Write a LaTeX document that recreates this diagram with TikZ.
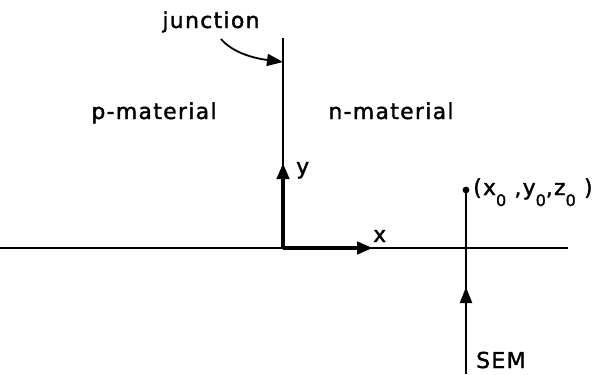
\documentclass[tikz,border=0pt]{standalone}
\usepackage{fontspec}
\setmainfont{DejaVu Sans}[LetterSpace=6,FakeBold=1.6]
\usetikzlibrary{arrows.meta}
\newcommand\lowsub[1]{\raisebox{-11bp}{\fontsize{16}{16}\selectfont #1}}
\begin{document}
\begin{tikzpicture}[x=1bp,y=1bp,
  thinline/.style={line width=2.2bp},
  thickline/.style={line width=4bp},
  tip/.style={-{Triangle[length=16bp,width=12bp]}},
  lbl/.style={inner sep=0pt,font=\fontsize{22}{22}\selectfont}]
\useasboundingbox (0,0) rectangle (592,374);
% coordinates
\coordinate (L) at (0,126);
\coordinate (R) at (568,126);
\coordinate (O) at (283,126);
\coordinate (J) at (283,336);
\coordinate (Ytip) at (283,211);
\coordinate (Xtip) at (373,126);
\coordinate (P) at (466,184);
\coordinate (S) at (466,0);
\coordinate (Stip) at (466,87);
\coordinate (Jstart) at (221,335);
\coordinate (Jtip) at (283,312);
% lines
\draw[thinline] (L) -- (R);
\draw[thinline] (O) -- (J);
\draw[thickline,tip] (O) -- (Ytip);
\draw[thickline,tip] (O) -- (Xtip);
\draw[thinline] (S) -- (P);
\draw[thinline,tip] (S) -- (Stip);
\fill (P) circle (3.4bp);
\draw[line width=1.8bp,-{Triangle[length=16bp,width=12bp]}] (Jstart) .. controls (232,322) and (252,316) .. (Jtip);
% labels
\node[lbl,anchor=base] (junction) at (211,346) {junction};
\node[lbl,anchor=base] (pmat) at (154,255) {p-material};
\node[lbl,anchor=base] (nmat) at (391,255) {n-material};
\node[lbl,anchor=base west] (ylab) at (296,200) {y};
\node[lbl,anchor=base west] (xlab) at (373,132) {x};
\node[lbl,anchor=base west] (sem) at (476,6) {SEM};
\node[lbl,anchor=base west] (pt) at (473,179) {(x\lowsub{0} ,y\lowsub{0},z\lowsub{0} )};
\end{tikzpicture}
\end{document}
